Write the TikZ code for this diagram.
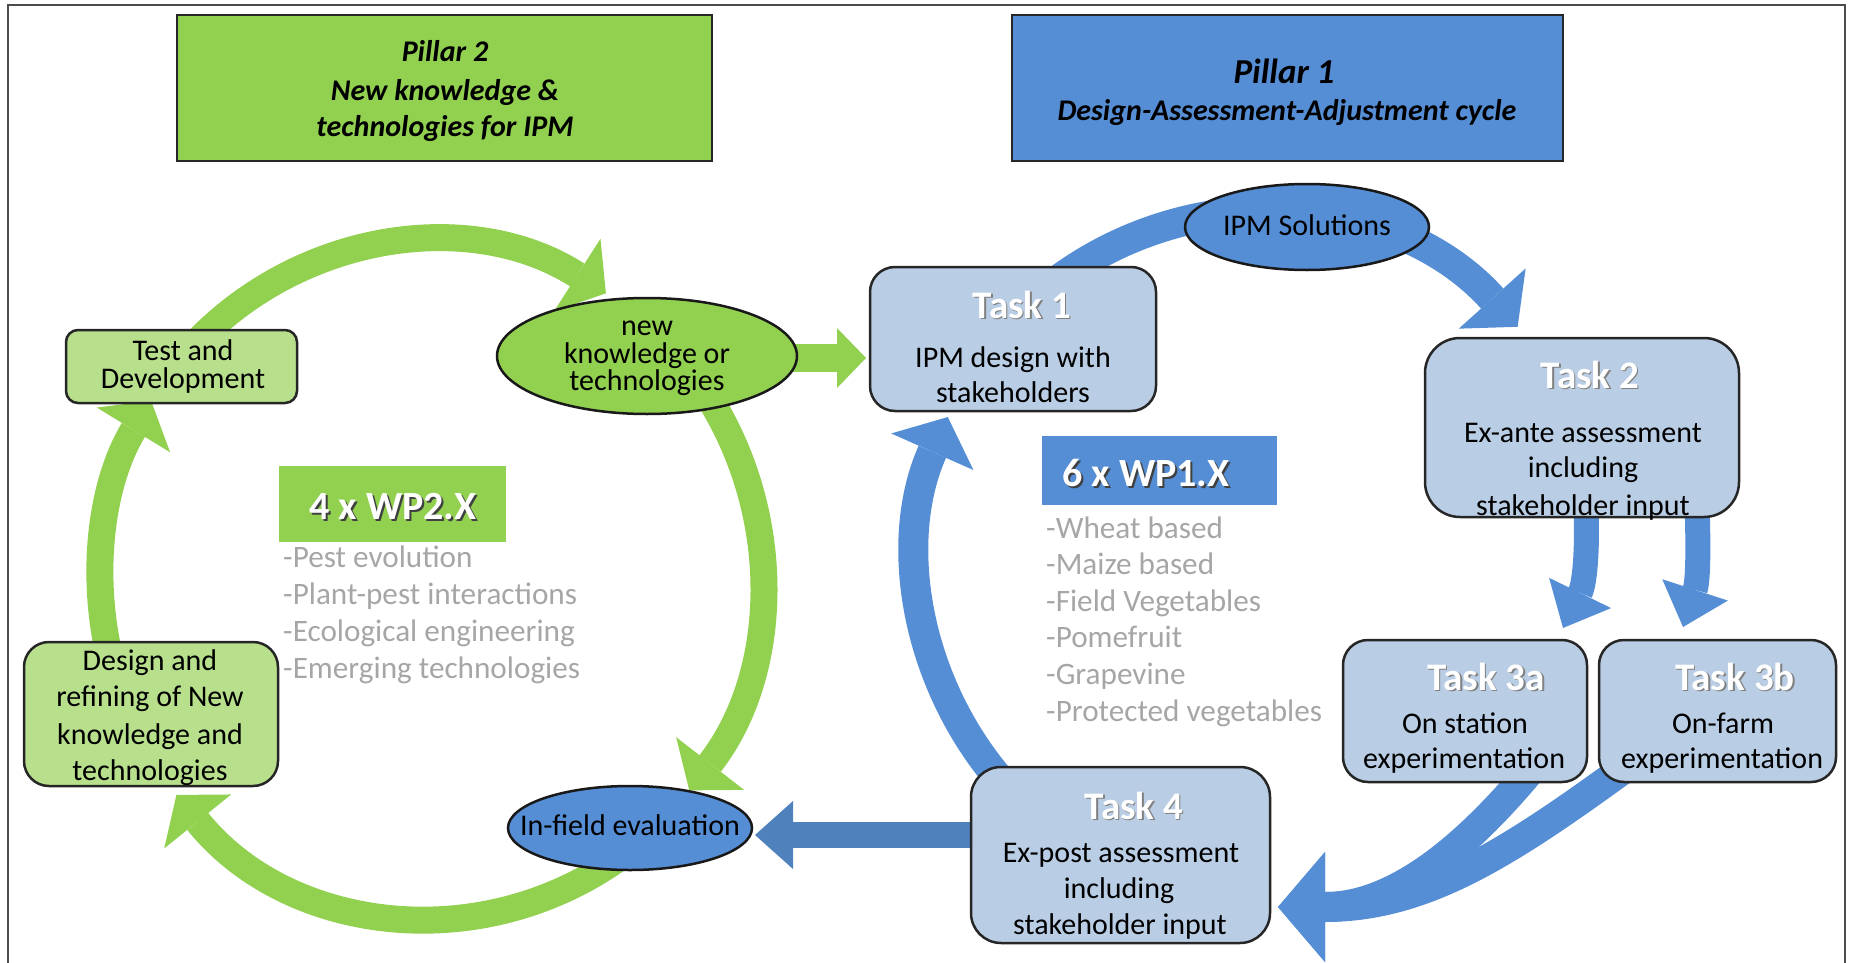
\documentclass[tikz,border=0pt]{standalone}
\usepackage{fontspec}
\setmainfont{Carlito}
\usetikzlibrary{arrows.meta,shapes.geometric,backgrounds}
\definecolor{pgreen}{HTML}{92D050}
\definecolor{lgreen}{HTML}{B8E08C}
\definecolor{pblue}{HTML}{558ED5}
\definecolor{lblue}{HTML}{B9CDE5}
\definecolor{dblue}{HTML}{4F81BD}
\definecolor{lgray}{HTML}{A6A6A6}
\newcommand\shadowed[1]{\leavevmode\rlap{\hspace{1.5pt}\raisebox{-1.5pt}{\textcolor{black!50}{#1}}}\textcolor{white}{#1}}
\newcommand\wpshadow[1]{\leavevmode\rlap{\hspace{2pt}\raisebox{-2pt}{\textcolor{black!75}{#1}}}\textcolor{white}{#1}}
\begin{document}
\begin{tikzpicture}[x=1pt,y=-1pt,
  txt/.style={inner sep=0pt, anchor=base, font=\fontsize{30}{36}\selectfont},
  ttl/.style={inner sep=0pt, anchor=base, font=\fontsize{39}{44}\selectfont\bfseries},
  pil/.style={inner sep=0pt, anchor=base, font=\fontsize{30}{36}\selectfont\bfseries\itshape},
  lst/.style={inner sep=0pt, anchor=base west, text=lgray, font=\fontsize{31.2}{36}\selectfont},
  wpt/.style={inner sep=0pt, anchor=base, font=\fontsize{40}{44}\selectfont\bfseries},
  pbox/.style={draw=black!85, line width=2pt, inner sep=0pt},
  taskbox/.style={draw=black!85, line width=2.5pt, fill=lblue, inner sep=0pt},
  gbox/.style={draw=black!85, line width=2.5pt, fill=lgreen, inner sep=0pt},
  ell/.style={ellipse, draw=black!90, line width=2.5pt, inner sep=0pt},
  garc/.style={draw=pgreen, line width=27pt, -{Triangle[length=34pt,width=86pt,line width=0pt]}},
  gline/.style={draw=pgreen, line width=28pt, -{Triangle[length=29pt,width=60pt,line width=0pt]}},
  barc/.style={draw=pblue, line width=30pt, -{Triangle[length=38pt,width=90pt,line width=0pt]}},
  bsmall/.style={draw=pblue, line width=25pt, -{Triangle[length=39pt,width=69pt,line width=0pt]}},
  bbig/.style={draw=pblue, line width=30pt, -{Triangle[length=47pt,width=110pt,line width=0pt]}},
  bline/.style={draw=dblue, line width=26pt, -{Triangle[length=38pt,width=68pt,line width=0pt]}}
]
\useasboundingbox (0,0) rectangle (1850,963);
\draw[line width=2pt, black!70] (8,963) -- (8,5) -- (1845,5) -- (1845,963);

% ---------- Pillar headers ----------
\node[pbox, fill=pgreen, minimum width=535pt, minimum height=146pt] (p2) at (444.5,88) {};
\node[pil] (p2a) at (445,62) {Pillar 2};
\node[pil] (p2b) at (445,101) {New knowledge \&};
\node[pil] (p2c) at (445,137) {technologies for IPM};

\node[pbox, fill=pblue, minimum width=551pt, minimum height=146pt] (p1) at (1287.5,88) {};
\node[pil, font=\fontsize{35}{40}\selectfont\bfseries\itshape] (p1a) at (1284,84) {Pillar 1};
\node[pil] (p1b) at (1287,121) {Design-Assessment-Adjustment cycle};

% ---------- Left (green) cycle nodes ----------
\node[gbox, rounded corners=12pt, minimum width=231pt, minimum height=73pt] (test) at (181.5,366.5) {};
\node[txt] (testa) at (183,360) {Test and};
\node[txt] (testb) at (183,388) {Development};

\node[ell, fill=pgreen, minimum width=300pt, minimum height=116pt] (nk) at (647,356) {};
\node[txt] (nka) at (647,335) {new};
\node[txt] (nkb) at (647,363) {knowledge or};
\node[txt] (nkc) at (647,390) {technologies};

\node[fill=pgreen, inner sep=0pt, minimum width=227pt, minimum height=76pt] (wp2) at (392.5,504) {};
\node[wpt] (wp2t) at (393,519) {\wpshadow{4 x WP2.X}};
\node[lst] (l21) at (283,567) {-Pest evolution};
\node[lst] (l22) at (283,604) {-Plant-pest interactions};
\node[lst] (l23) at (283,641) {-Ecological engineering};
\node[lst] (l24) at (283,678) {-Emerging technologies};

\node[gbox, rounded corners=25pt, minimum width=254pt, minimum height=144pt] (dsg) at (151,714) {};
\node[txt] (dsga) at (150,670) {Design and};
\node[txt] (dsgb) at (150,706) {refining of New};
\node[txt] (dsgc) at (150,744) {knowledge and};
\node[txt] (dsgd) at (150,780) {technologies};

\node[ell, fill=pblue, minimum width=244pt, minimum height=84pt] (inf) at (630,828) {};
\node[txt] (inft) at (630,835) {In-field evaluation};

% ---------- Right (blue) cycle nodes ----------
\node[taskbox, rounded corners=25pt, minimum width=286pt, minimum height=144pt] (task1) at (1013,339) {};
\node[ttl] (task1t) at (1022,318) {\shadowed{Task 1}};
\node[txt] (task1a) at (1013,367) {IPM design with};
\node[txt] (task1b) at (1013,402) {stakeholders};

\node[ell, fill=pblue, minimum width=244pt, minimum height=86pt] (ipm) at (1307,227) {};
\node[txt] (ipmt) at (1307,235) {IPM Solutions};

\node[taskbox, rounded corners=35pt, minimum width=314pt, minimum height=179pt] (task2) at (1582,427.5) {};
\node[ttl] (task2t) at (1590,388) {\shadowed{Task 2}};
\node[txt] (task2a) at (1583,442) {Ex-ante assessment};
\node[txt] (task2b) at (1583,477) {including};
\node[txt] (task2c) at (1583,515) {stakeholder input};

\node[fill=pblue, inner sep=0pt, minimum width=235pt, minimum height=69pt] (wp1) at (1159.5,470.5) {};
\node[wpt] (wp1t) at (1146,486) {\wpshadow{6 x WP1.X}};
\node[lst] (l11) at (1046,538) {-Wheat based};
\node[lst] (l12) at (1046,574) {-Maize based};
\node[lst] (l13) at (1046,611) {-Field Vegetables};
\node[lst] (l14) at (1046,647) {-Pomefruit};
\node[lst] (l15) at (1046,684) {-Grapevine};
\node[lst] (l16) at (1046,721) {-Protected vegetables};

\node[taskbox, rounded corners=25pt, minimum width=244pt, minimum height=142pt] (t3a) at (1465,711) {};
\node[ttl] (t3at) at (1486,690) {\shadowed{Task 3a}};
\node[txt] (t3aa) at (1465,733) {On station};
\node[txt] (t3ab) at (1464,768) {experimentation};

\node[taskbox, rounded corners=25pt, minimum width=237pt, minimum height=142pt] (t3b) at (1717.5,711) {};
\node[ttl] (t3bt) at (1735,690) {\shadowed{Task 3b}};
\node[txt] (t3ba) at (1723,733) {On-farm};
\node[txt] (t3bb) at (1722,768) {experimentation};

\node[taskbox, rounded corners=30pt, minimum width=299pt, minimum height=176pt] (task4) at (1120.5,855) {};
\node[ttl] (task4t) at (1134,819) {\shadowed{Task 4}};
\node[txt] (task4a) at (1121,862) {Ex-post assessment};
\node[txt] (task4b) at (1119,898) {including};
\node[txt] (task4c) at (1120,934) {stakeholder input};

% ---------- connector end points ----------
\coordinate (g1s) at (185.8,353.8);
\coordinate (g2s) at (683.8,362.7);
\coordinate (g3s) at (634.2,846.3);
\coordinate (g4s) at (120.9,695.6);
\coordinate (gA) at (780,358);
\coordinate (gB) at (866,358);
\coordinate (b1s) at (1018.8,800.2);
\coordinate (b2s) at (1050.2,285.9);
\coordinate (b3s) at (1586,505);
\coordinate (b3e) at (1563,628);
\coordinate (b4s) at (1697,505);
\coordinate (b4e) at (1683,627);
\coordinate (b5s) at (1529,772);
\coordinate (b6s) at (1622,770);
\coordinate (t4tip) at (1278,907);
\coordinate (hA) at (985,835);
\coordinate (hB) at (755,835);

\begin{pgfonlayer}{background}
  % green cycle
  \draw[garc] (g1s) arc[start angle=222, end angle=302, x radius=330, y radius=338];
  \draw[garc] (g2s) arc[start angle=-40, end angle=38.5, x radius=330, y radius=338];
  \draw[garc] (g3s) arc[start angle=52, end angle=140.5, x radius=330, y radius=338];
  \draw[garc] (g4s) arc[start angle=160, end angle=212, x radius=330, y radius=338];
  \draw[gline] (gA) -- (gB);
  % blue cycle
  \draw[barc] (b1s) arc[start angle=135, end angle=204, radius=344];
  \draw[barc] (b2s) arc[start angle=232, end angle=318, radius=344];
  \draw[bsmall] (b3s) to[out=-88, in=64] (b3e);
  \draw[bsmall] (b4s) to[out=-88, in=72] (b4e);
  \draw[bbig] (b5s) to[out=230, in=0] (t4tip);
  \draw[bbig] (b6s) to[out=216, in=0] (t4tip);
  \draw[bline] (hA) -- (hB);
\end{pgfonlayer}
\end{tikzpicture}
\end{document}
